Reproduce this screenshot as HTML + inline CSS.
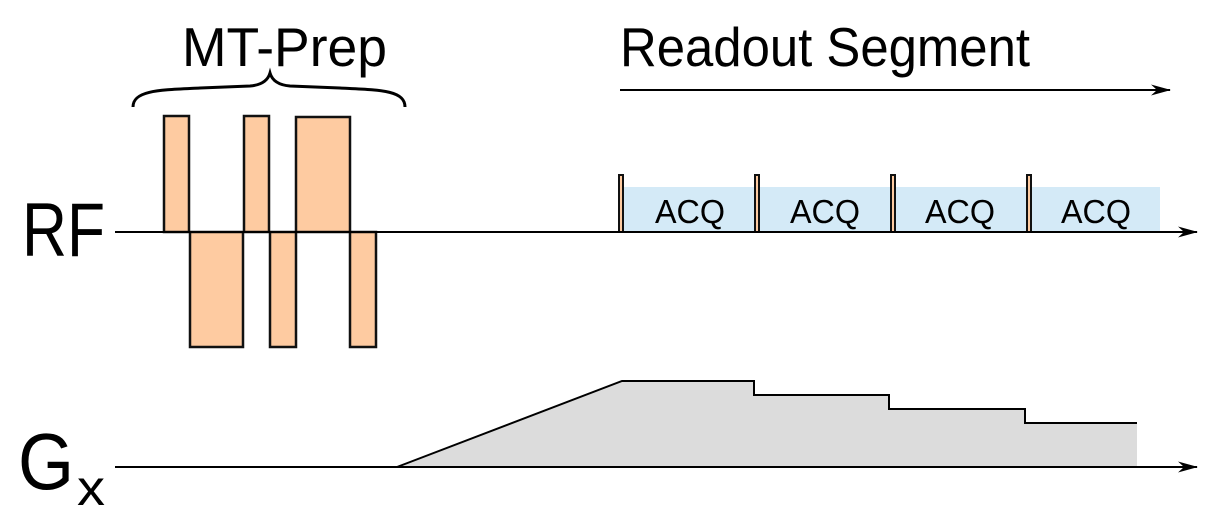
<!DOCTYPE html>
<html><head><meta charset="utf-8"><style>html,body{margin:0;padding:0;background:#fff}svg{display:block}</style></head>
<body>
<svg width="1217" height="520" viewBox="0 0 1217 520" xmlns="http://www.w3.org/2000/svg" font-family="'Liberation Sans',sans-serif">
<defs><marker id="a" markerWidth="20" markerHeight="12" refX="19" refY="6" orient="auto" markerUnits="userSpaceOnUse"><path d="M0,0.5 L20,6 L0,11.5 L6,6 Z" fill="#000"/></marker></defs>
<text x="182" y="66" font-size="55" textLength="205" lengthAdjust="spacingAndGlyphs">MT-Prep</text>
<text x="620" y="66" font-size="55" textLength="410" lengthAdjust="spacingAndGlyphs">Readout Segment</text>
<path d="M133,107 C133,90 160,90 200,88 L250,86 C262,85 268,80 270,73 C272,80 278,85 290,86 L340,88 C380,90 405,90 405,107" fill="none" stroke="#000" stroke-width="3"/>
<line x1="620" y1="90" x2="1170" y2="90" stroke="#000" stroke-width="2" marker-end="url(#a)"/>
<text x="22" y="256" font-size="76" textLength="83" lengthAdjust="spacingAndGlyphs">RF</text>
<text x="18" y="489" font-size="80" textLength="56" lengthAdjust="spacingAndGlyphs">G</text>
<text x="77" y="505" font-size="50" textLength="28" lengthAdjust="spacingAndGlyphs">x</text>
<g fill="#fecba1" stroke="#111" stroke-width="2.5">
<rect x="164" y="116" width="25" height="116"/>
<rect x="190" y="232" width="53" height="115"/>
<rect x="244" y="116" width="25" height="116"/>
<rect x="270" y="232" width="26" height="115"/>
<rect x="296" y="117" width="54" height="115"/>
<rect x="350" y="232" width="26" height="115"/>
</g>
<rect x="622" y="187" width="538" height="45" fill="#d4eaf7"/>
<g fill="#fecba1" stroke="#111" stroke-width="2">
<rect x="619" y="175" width="4" height="57"/>
<rect x="755" y="175" width="4" height="57"/>
<rect x="891" y="175" width="4" height="57"/>
<rect x="1027" y="175" width="4" height="57"/>
</g>
<g font-size="33" text-anchor="middle">
<text x="690" y="223" textLength="70" lengthAdjust="spacingAndGlyphs">ACQ</text><text x="825" y="223" textLength="70" lengthAdjust="spacingAndGlyphs">ACQ</text><text x="960" y="223" textLength="70" lengthAdjust="spacingAndGlyphs">ACQ</text><text x="1096" y="223" textLength="70" lengthAdjust="spacingAndGlyphs">ACQ</text>
</g>
<line x1="115" y1="232" x2="1197" y2="232" stroke="#000" stroke-width="2" marker-end="url(#a)"/>
<polygon points="397,467 622,381 754,381 754,395 889,395 889,409 1025,409 1025,423 1137,423 1137,467" fill="#dcdcdc"/>
<polyline points="397,467 622,381 754,381 754,395 889,395 889,409 1025,409 1025,423 1137,423" fill="none" stroke="#000" stroke-width="2"/>
<line x1="115" y1="467" x2="1197" y2="467" stroke="#000" stroke-width="2" marker-end="url(#a)"/>
</svg>
</body></html>
